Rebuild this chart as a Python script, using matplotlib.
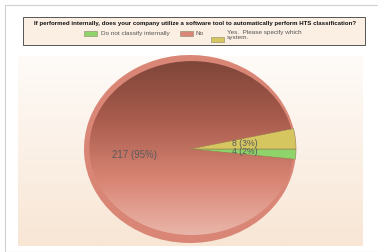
import matplotlib
matplotlib.use("Agg")
from matplotlib import pyplot as plt
from matplotlib.patches import Ellipse, Rectangle
from matplotlib.colors import LinearSegmentedColormap
import numpy as np

title = "If performed internally, does your company utilize a software tool to automatically perform HTS classification?"
labels = ["Do not classify internally", "No", "Yes.  Please specify which\nsystem."]
counts = [4, 217, 8]
colors = ["#8fd46a", "#da8676", "#d6c660"]

W, H = 378, 252
fig = plt.figure(figsize=(W / 100, H / 100), dpi=100)
fig.patch.set_facecolor("white")


def px_box(x0, y0, x1, y1):
    # pixel box (top-left origin) -> figure fraction [l, b, w, h]
    return [x0 / W, 1 - y1 / H, (x1 - x0) / W, (y1 - y0) / H]


def fx(x):
    return x / W


def fy(y):
    return 1 - y / H


fig.patches.append(Rectangle((fx(5), 0), 1, fy(5), transform=fig.transFigure,
                             facecolor="none", edgecolor="#d0d0d0", lw=0.8))

# plot area background
bg = fig.add_axes(px_box(18, 56, 363, 246))
bg_cmap = LinearSegmentedColormap.from_list("bg", ["#fefbf8", "#f8e6d5"])
bg.imshow(np.linspace(0, 1, 100).reshape(-1, 1), cmap=bg_cmap, aspect="auto",
          extent=[0, 1, 0, 1])
bg.axis("off")

ax = fig.add_axes(px_box(84, 55, 296, 243))
total = sum(counts)
wedges, texts, autotexts = ax.pie(
    counts, colors=colors, startangle=0, counterclock=False,
    autopct=lambda p: "%d (%.0f%%)" % (round(p * total / 100), p),
    pctdistance=0.52, textprops=dict(fontsize=6.3, color="#5a5a5a", family="Liberation Sans"),
    wedgeprops=dict(edgecolor="#9a7a50", linewidth=0.4))
wedges[1].set_edgecolor("none")
for w in (wedges[0], wedges[2]):
    w.set_zorder(2)

# shaded inner part of the big slice
inner = Ellipse((0.015, 0.01), 1.93, 1.85, facecolor="none", lw=0)
ax.add_patch(inner)
grad = LinearSegmentedColormap.from_list("g", ["#ecbcb0", "#d98574", "#a85b4c", "#7a4437"])
im = ax.imshow(np.linspace(0, 1, 200).reshape(-1, 1), cmap=grad, origin="lower",
               extent=[-1, 1, -1, 1], aspect="auto", zorder=1.5)
im.set_clip_path(inner)
autotexts[1].set_fontsize(7.0)
autotexts[1].set_y(autotexts[1].get_position()[1] - 0.04)
for t in autotexts:
    t.set_zorder(3)
ax.set_xlim(-1.0, 1.0)
ax.set_ylim(-1.0, 1.0)
ax.set_aspect("auto")
ax.axis("off")

# legend box, drawn by hand to follow the original layout
fig.patches.append(Rectangle((fx(23), fy(45)), (365 - 23) / W, 28 / H, transform=fig.transFigure,
                             facecolor="#fbeee2", edgecolor="#555555", lw=0.7))
fig.text(fx(195), fy(24), title, ha="center", va="center", fontsize=4.4,
         weight="bold", family="Liberation Sans", color="#111111")
key_x = [84, 180, 211]
key_y = [31, 31, 37]
text_x = [101, 195, 227]
for lab, col, kx, ky, tx in zip(labels, colors, key_x, key_y, text_x):
    fig.patches.append(Rectangle((fx(kx), fy(ky + 5)), 13 / W, 5 / H, transform=fig.transFigure,
                                 facecolor=col, edgecolor="#8a8a6a", lw=0.4))
    fig.text(fx(tx), fy(33.5) if "\n" not in lab else fy(30), lab,
             ha="left", va="center" if "\n" not in lab else "top",
             fontsize=4.6, family="Liberation Sans", color="#555555", linespacing=0.95)

plt.savefig("out.png", dpi=100)
